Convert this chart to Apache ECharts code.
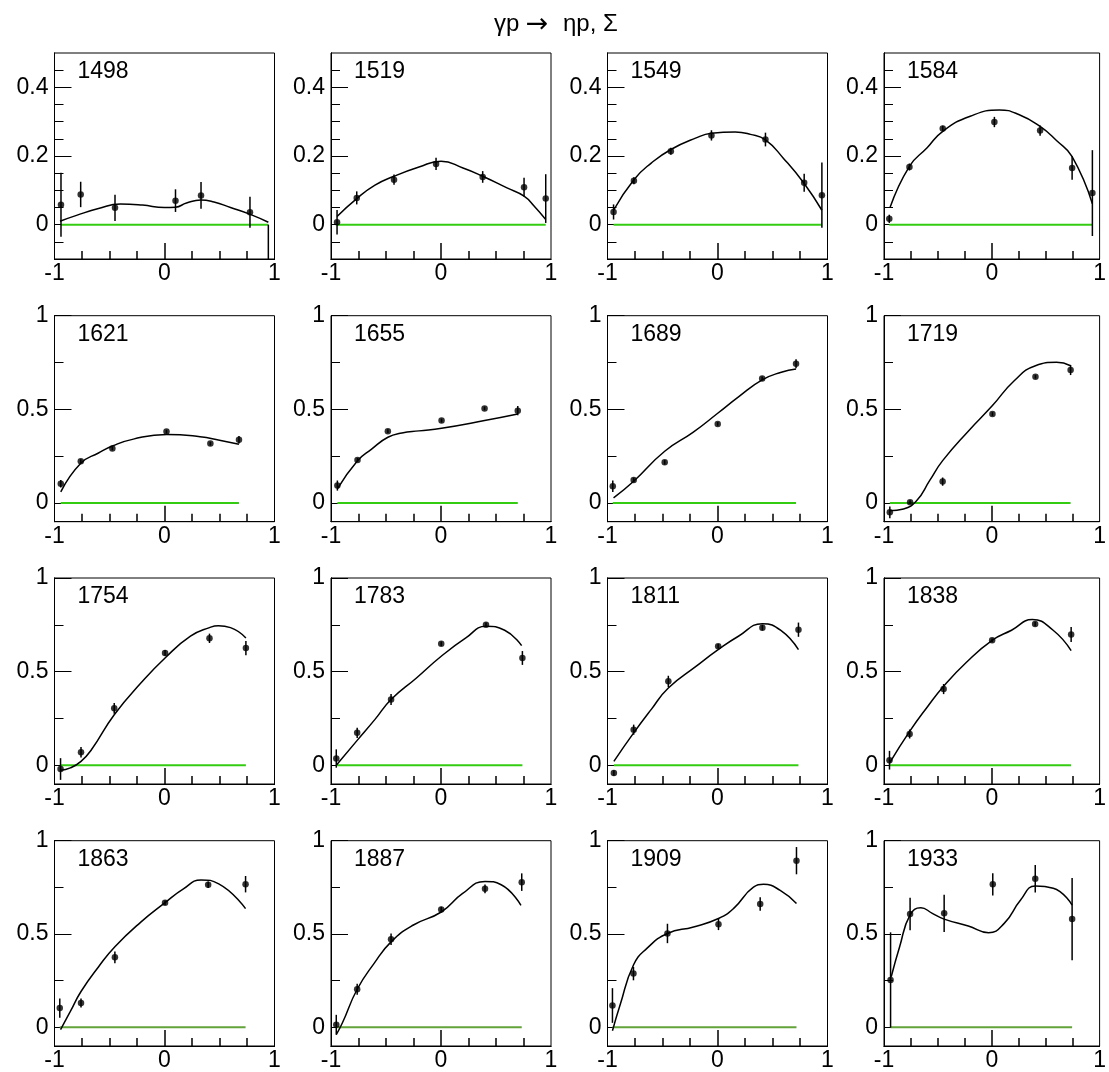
<!DOCTYPE html>
<html><head><meta charset="utf-8">
<script src="https://cdn.jsdelivr.net/npm/echarts@6/dist/echarts.min.js"></script>
<style>html,body{margin:0;padding:0;background:#fff}#c{width:1109px;height:1072px}</style>
</head><body><div id="c"></div>
<script>
// ---- data ----
const energies = [1498, 1519, 1549, 1584, 1621, 1655, 1689, 1719, 1754, 1783, 1811, 1838, 1863, 1887, 1909, 1933];

const ptCos = [
  [-0.941, -0.762, -0.45, 0.10, 0.332, 0.777, 0.944],
  [-0.945, -0.766, -0.427, -0.045, 0.379, 0.755, 0.952],
  [-0.945, -0.76, -0.424, -0.055, 0.436, 0.788, 0.949],
  [-0.951, -0.764, -0.455, 0.024, 0.448, 0.745, 0.933],
  [-0.943, -0.761, -0.474, 0.018, 0.417, 0.677],
  [-0.942, -0.759, -0.483, 0.005, 0.396, 0.698],
  [-0.952, -0.762, -0.48, 0.002, 0.406, 0.714],
  [-0.946, -0.758, -0.456, 0.006, 0.405, 0.731],
  [-0.945, -0.759, -0.457, 0.005, 0.409, 0.74],
  [-0.952, -0.762, -0.454, 0.002, 0.409, 0.74],
  [-0.942, -0.762, -0.447, 0.006, 0.408, 0.736],
  [-0.949, -0.762, -0.447, 0.003, 0.402, 0.736],
  [-0.952, -0.759, -0.451, 0.005, 0.397, 0.737],
  [-0.952, -0.762, -0.454, 0.002, 0.4, 0.734],
  [-0.955, -0.764, -0.455, 0.009, 0.388, 0.718],
  [-0.939, -0.758, -0.442, 0.009, 0.403, 0.745]
];
const ptSigma = [
  [0.058, 0.088, 0.049, 0.070, 0.085, 0.036, -0.2],
  [0.007, 0.078, 0.131, 0.177, 0.139, 0.109, 0.076],
  [0.037, 0.128, 0.214, 0.260, 0.248, 0.122, 0.086],
  [0.017, 0.168, 0.280, 0.299, 0.274, 0.165, 0.092],
  [0.103, 0.223, 0.291, 0.381, 0.317, 0.337],
  [0.093, 0.230, 0.383, 0.440, 0.505, 0.493],
  [0.089, 0.123, 0.217, 0.422, 0.665, 0.744],
  [-0.050, 0.004, 0.114, 0.475, 0.674, 0.710],
  [-0.020, 0.069, 0.304, 0.600, 0.678, 0.626],
  [0.036, 0.173, 0.351, 0.649, 0.751, 0.573],
  [-0.041, 0.19, 0.448, 0.635, 0.735, 0.724],
  [0.027, 0.167, 0.407, 0.667, 0.754, 0.698],
  [0.103, 0.13, 0.375, 0.668, 0.764, 0.767],
  [0.014, 0.204, 0.472, 0.631, 0.742, 0.778],
  [0.117, 0.288, 0.503, 0.552, 0.661, 0.893],
  [0.254, 0.607, 0.611, 0.766, 0.796, 0.580]
];
const ptError = [
  [0.093, 0.037, 0.038, 0.033, 0.039, 0.045, 0.2],
  [0.036, 0.019, 0.015, 0.018, 0.017, 0.028, 0.071],
  [0.022, 0.010, 0.010, 0.015, 0.020, 0.026, 0.095],
  [0.012, 0.010, 0.008, 0.015, 0.015, 0.034, 0.125],
  [0.02, 0.01, 0.01, 0.01, 0.01, 0.02],
  [0.027, 0.01, 0.01, 0.01, 0.01, 0.025],
  [0.031, 0.012, 0.012, 0.01, 0.01, 0.024],
  [0.031, 0.01, 0.022, 0.01, 0.01, 0.027],
  [0.058, 0.028, 0.029, 0.015, 0.025, 0.038],
  [0.049, 0.027, 0.029, 0.012, 0.012, 0.037],
  [0.015, 0.027, 0.03, 0.012, 0.015, 0.038],
  [0.05, 0.024, 0.027, 0.01, 0.012, 0.04],
  [0.052, 0.024, 0.031, 0.012, 0.018, 0.044],
  [0.053, 0.029, 0.031, 0.015, 0.023, 0.047],
  [0.093, 0.036, 0.052, 0.031, 0.036, 0.073],
  [0.255, 0.087, 0.1, 0.059, 0.074, 0.22]
];
const fitCos = [
  [-0.95, -0.8, -0.6, -0.4, -0.2, 0, 0.1, 0.2, 0.33, 0.45, 0.6, 0.78, 0.944],
  [-0.945, -0.766, -0.6, -0.427, -0.2, 0.0, 0.2, 0.379, 0.6, 0.755, 0.85, 0.952],
  [-0.945, -0.76, -0.6, -0.424, -0.2, -0.055, 0.161, 0.3, 0.436, 0.6, 0.788, 0.949],
  [-0.945, -0.764, -0.6, -0.455, -0.2, 0.07, 0.25, 0.448, 0.6, 0.745, 0.933],
  [-0.943, -0.761, -0.6, -0.474, -0.283, 0.02, 0.323, 0.5, 0.677],
  [-0.942, -0.759, -0.631, -0.483, -0.355, -0.2, 0.005, 0.396, 0.698],
  [-0.945, -0.762, -0.48, -0.223, 0.002, 0.194, 0.406, 0.58, 0.714],
  [-0.946, -0.819, -0.698, -0.577, -0.456, -0.214, 0.006, 0.208, 0.405, 0.601, 0.731],
  [-0.945, -0.856, -0.759, -0.663, -0.457, -0.213, 0.005, 0.236, 0.409, 0.49, 0.6, 0.74],
  [-0.952, -0.762, -0.6, -0.454, -0.223, 0.002, 0.226, 0.409, 0.579, 0.733],
  [-0.942, -0.762, -0.6, -0.447, -0.196, 0.006, 0.19, 0.408, 0.576, 0.736],
  [-0.949, -0.762, -0.6, -0.447, -0.235, 0.003, 0.183, 0.376, 0.569, 0.736],
  [-0.945, -0.856, -0.759, -0.599, -0.451, -0.213, 0.005, 0.172, 0.332, 0.493, 0.737],
  [-0.952, -0.897, -0.762, -0.608, -0.454, -0.255, 0.002, 0.194, 0.4, 0.547, 0.727],
  [-0.955, -0.885, -0.764, -0.642, -0.455, -0.218, 0.009, 0.145, 0.327, 0.418, 0.57, 0.718],
  [-0.933, -0.855, -0.758, -0.658, -0.552, -0.442, -0.218, -0.03, 0.115, 0.267, 0.403, 0.57, 0.745]
];
const fitSigma = [
  [0.010, 0.027, 0.047, 0.060, 0.057, 0.050, 0.051, 0.063, 0.072, 0.066, 0.050, 0.030, 0.007],
  [0.024, 0.076, 0.115, 0.141, 0.168, 0.185, 0.165, 0.141, 0.107, 0.083, 0.053, 0.015],
  [0.042, 0.131, 0.180, 0.219, 0.252, 0.266, 0.270, 0.263, 0.247, 0.193, 0.120, 0.042],
  [0.049, 0.170, 0.224, 0.272, 0.316, 0.334, 0.321, 0.286, 0.245, 0.198, 0.061],
  [0.059, 0.212, 0.267, 0.304, 0.341, 0.366, 0.354, 0.335, 0.313],
  [0.075, 0.226, 0.288, 0.351, 0.374, 0.385, 0.399, 0.440, 0.475],
  [0.027, 0.116, 0.276, 0.377, 0.479, 0.568, 0.657, 0.698, 0.715],
  [-0.041, -0.032, 0.012, 0.119, 0.226, 0.386, 0.520, 0.653, 0.733, 0.751, 0.733],
  [-0.027, -0.014, 0.021, 0.084, 0.27, 0.44, 0.573, 0.689, 0.735, 0.745, 0.735, 0.68],
  [0.0, 0.133, 0.245, 0.351, 0.466, 0.582, 0.68, 0.742, 0.721, 0.639],
  [0.021, 0.173, 0.30, 0.413, 0.528, 0.617, 0.689, 0.756, 0.72, 0.617],
  [0.012, 0.181, 0.31, 0.422, 0.55, 0.667, 0.721, 0.778, 0.721, 0.612],
  [-0.012, 0.085, 0.192, 0.325, 0.432, 0.565, 0.668, 0.742, 0.79, 0.769, 0.636],
  [-0.039, 0.023, 0.204, 0.343, 0.458, 0.547, 0.618, 0.716, 0.782, 0.764, 0.654],
  [-0.018, 0.121, 0.334, 0.423, 0.503, 0.538, 0.583, 0.636, 0.751, 0.766, 0.734, 0.663],
  [0.271, 0.432, 0.602, 0.641, 0.611, 0.58, 0.543, 0.507, 0.557, 0.682, 0.757, 0.745, 0.655]
];

const xTickLabels = [-1, 0, 1];
const xMajorTicks = [0];
const xMinorTicks = [-0.75, -0.5, -0.25, 0.25, 0.5, 0.75];
const yRangeTop = [-0.1, 0.5];
const yRangeRest = [-0.1, 1];
const yMajorTop = [0, 0.2, 0.4];
const yMinorTop = [-0.05, 0.05, 0.1, 0.15, 0.25, 0.3, 0.35, 0.45];
const yMajorRest = [0, 0.5, 1];
const yMinorRest = [0.25, 0.75];
const titleParts = ['γp', '→', 'ηp, Σ'];

// ---- layout ----
const GL = [54.5, 331, 607.5, 884];
const GT = [53, 315.7, 578, 840.7];
const GW = 220, GH = 206;
const FONT = "'Liberation Sans', Arial, Helvetica, sans-serif";
const FS = 23;
const ts = () => ({color: '#000', width: 1});
const xts = () => ({color: '#000', width: 1.5});

const chart = echarts.init(document.getElementById('c'), null, {renderer: 'canvas'});
const grids = [], xAxes = [], yAxes = [], series = [], graphics = [];

for (let i = 0; i < 16; i++) {
  const row = Math.floor(i / 4), col = i % 4;
  const top = row === 0;
  const yr = top ? yRangeTop : yRangeRest;
  grids.push({left: GL[col], top: GT[row], width: GW, height: GH, show: true,
    borderColor: '#000', borderWidth: 1});
  const xStart = xAxes.length;
  xAxes.push({
    gridIndex: i, type: 'value', min: -1, max: 1, position: 'bottom',
    axisLine: {show: true, onZero: false, lineStyle: ts()},
    axisTick: {show: true, inside: true, length: 16, customValues: xMajorTicks, lineStyle: xts()},
    splitLine: {show: false},
    axisLabel: {color: '#000', fontSize: FS, fontFamily: FONT, margin: 3,
      customValues: xTickLabels, formatter: v => String(v)}
  });
  xAxes.push({
    gridIndex: i, type: 'value', min: -1, max: 1, position: 'bottom', offset: 0,
    axisLine: {show: true, onZero: false, lineStyle: ts()},
    axisTick: {show: true, inside: true, length: 8, customValues: xMinorTicks, lineStyle: xts()},
    splitLine: {show: false},
    axisLabel: {show: false}
  });
  const maj = top ? yMajorTop : yMajorRest;
  const mnr = top ? yMinorTop : yMinorRest;
  const yStart = yAxes.length;
  yAxes.push({
    gridIndex: i, type: 'value', min: yr[0], max: yr[1], position: 'left', offset: 0,
    axisLine: {show: true, onZero: false, lineStyle: ts()},
    axisTick: {show: true, inside: true, length: 17, customValues: maj, lineStyle: ts()},
    splitLine: {show: false},
    axisLabel: {color: '#000', fontSize: FS, fontFamily: FONT, margin: 6, customValues: maj,
      formatter: v => String(v)}
  });
  yAxes.push({
    gridIndex: i, type: 'value', min: yr[0], max: yr[1], position: 'left', offset: 0,
    axisLine: {show: true, onZero: false, lineStyle: ts()},
    axisTick: {show: true, inside: true, length: 9, customValues: mnr, lineStyle: ts()},
    splitLine: {show: false},
    axisLabel: {show: false}
  });

  const xs = ptCos[i];
  const green = row === 3 ? '#62a33a' : '#33cc11';
  series.push({
    type: 'line', xAxisIndex: xStart, yAxisIndex: yStart, symbol: 'none', silent: true,
    data: [[xs[0], 0], [xs[xs.length - 1], 0]],
    lineStyle: {color: green, width: 2}, z: 2
  });
  series.push({
    type: 'line', xAxisIndex: xStart, yAxisIndex: yStart, symbol: 'none', smooth: 0.5, silent: true,
    data: fitCos[i].map((c, k) => [c, fitSigma[i][k]]),
    lineStyle: {color: '#000', width: 1.5}, z: 3
  });
  series.push({
    type: 'custom', xAxisIndex: xStart, yAxisIndex: yStart, silent: true,
    data: xs.map((c, k) => [c, ptSigma[i][k], ptError[i][k]]),
    renderItem: (params, api) => {
      const x = api.value(0), y = api.value(1), e = api.value(2);
      const p1 = api.coord([x, y - e]), p2 = api.coord([x, y + e]);
      const cs = params.coordSys;
      const clamp = v => Math.max(cs.y, Math.min(cs.y + cs.height, v));
      return {type: 'line', shape: {x1: p1[0], y1: clamp(p1[1]), x2: p2[0], y2: clamp(p2[1])},
        style: {stroke: '#000', lineWidth: 1.5}};
    }, z: 4
  });
  series.push({
    type: 'scatter', xAxisIndex: xStart, yAxisIndex: yStart, symbol: 'circle', symbolSize: 6.5, silent: true,
    clip: true,
    data: xs.map((c, k) => [c, ptSigma[i][k]]),
    itemStyle: {color: '#000'}, z: 5
  });

  graphics.push({type: 'text', left: GL[col] + 23, top: GT[row] + 7,
    style: {text: String(energies[i]), fill: '#000', font: FS + 'px ' + FONT}});
}

graphics.push({type: 'text', x: 494, y: 24,
  style: {text: titleParts[0], fill: '#000', font: '24px ' + FONT, textAlign: 'left', textVerticalAlign: 'middle'}});
graphics.push({type: 'text', x: 537, y: 25,
  style: {text: titleParts[1], fill: '#000', font: "27px 'DejaVu Sans', sans-serif", textAlign: 'center', textVerticalAlign: 'middle'}});
graphics.push({type: 'text', x: 563, y: 24,
  style: {text: titleParts[2], fill: '#000', font: '24px ' + FONT, textAlign: 'left', textVerticalAlign: 'middle'}});

chart.setOption({
  animation: false,
  backgroundColor: '#fff',
  grid: grids, xAxis: xAxes, yAxis: yAxes, series: series, graphic: graphics
});
</script></body></html>
